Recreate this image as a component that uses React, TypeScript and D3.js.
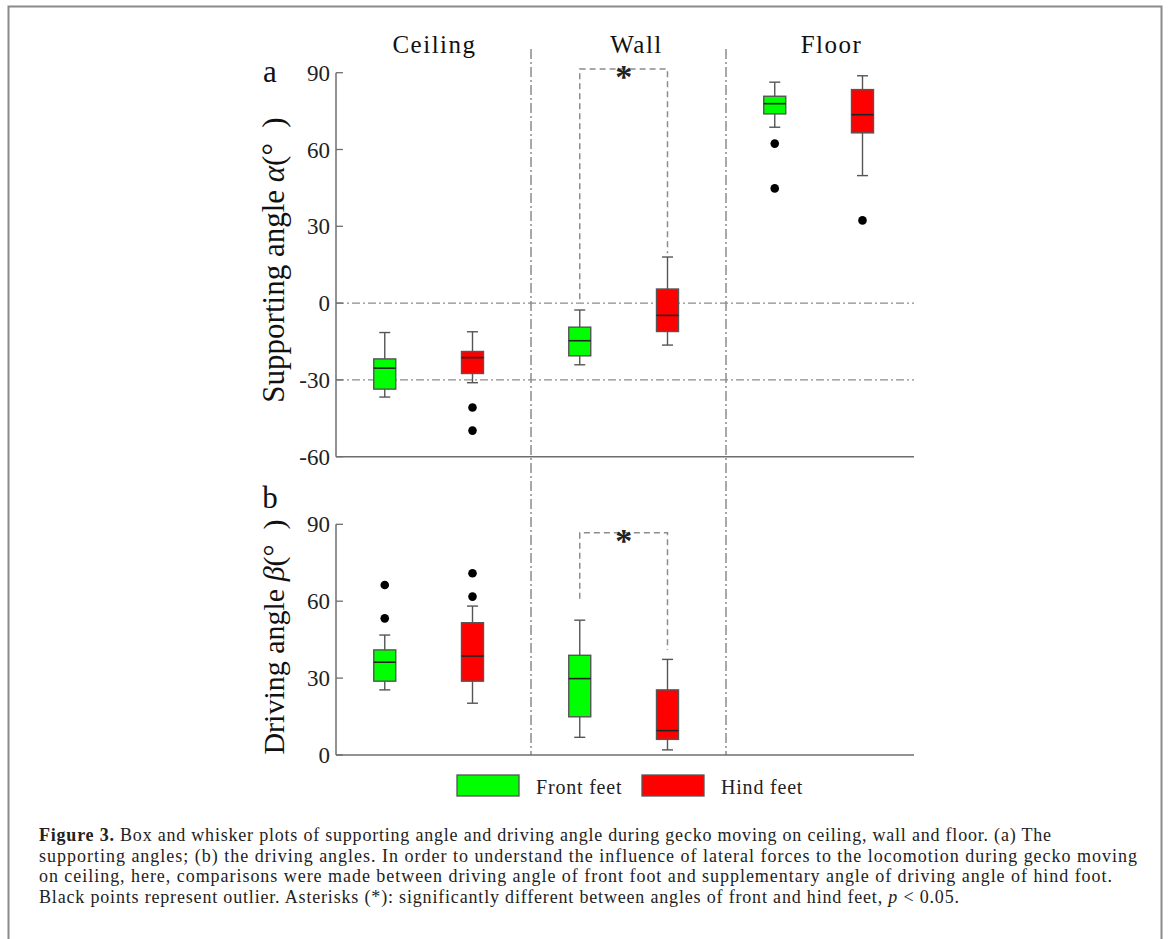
import * as d3 from 'd3';

const surfaces = ['Ceiling', 'Wall', 'Floor'];
const feet = ['Front feet', 'Hind feet'];

// box stats per surface: [whisker low, q1, median, q3, whisker high]
const alphaFront = [
  [-36.7, -33.6, -25.4, -21.8, -11.5],
  [-24.1, -20.6, -14.7, -9.4, -2.7],
  [68.7, 73.9, 77.9, 80.8, 86.3],
];
const alphaHind = [
  [-31.1, -27.5, -21.3, -18.9, -11.2],
  [-16.4, -11.1, -4.8, 5.5, 18.0],
  [49.8, 66.5, 73.6, 83.4, 88.8],
];
const alphaFrontOutliers = [[], [], [62.3, 44.8]];
const alphaHindOutliers = [[-40.8, -49.8], [], [32.3]];

const betaFront = [
  [25.4, 28.8, 36.2, 41.0, 46.8],
  [6.9, 14.9, 29.8, 38.9, 52.6],
  null,
];
const betaHind = [
  [20.2, 28.8, 38.6, 51.6, 58.1],
  [2.0, 6.1, 9.5, 25.4, 37.3],
  null,
];
const betaFrontOutliers = [[66.3, 53.3], [], []];
const betaHindOutliers = [[70.9, 61.8], [], []];

const alphaTicks = [-60, -30, 0, 30, 60, 90];
const betaTicks = [0, 30, 60, 90];
const alphaRefLines = [0, -30];

// significance bracket on Wall: [top, front leg end, hind leg end]
const alphaBracket = [91.4, 1.5, 19.5];
const betaBracket = [86.7, 61, 41];

const captionLines = [
  'Box and whisker plots of supporting angle and driving angle during gecko moving on ceiling, wall and floor. (a) The',
  'supporting angles; (b) the driving angles. In order to understand the influence of lateral forces to the locomotion during gecko moving',
  'on ceiling, here, comparisons were made between driving angle of front foot and supplementary angle of driving angle of hind foot.',
  'Black points represent outlier. Asterisks (*): significantly different between angles of front and hind feet, ',
];

const W = 1171;
const H = 939;
const serif = "'Liberation Serif', 'Times New Roman', serif";
const GREEN = '#00ff00';
const RED = '#ff0000';
const AXIS = '#6e6e6e';
const DASH = '#8c8c8c';

const x = d3.scaleLinear().domain([0, 3]).range([336, 921]);
const axisRight = 914;
const FRONT_OFF = 0.25;
const HIND_OFF = 0.7;
const BOX_W = 22;
const CAP_W = 11;

const yAlpha = d3.scaleLinear().domain([-60, 90]).range([456.7, 72.7]);
const yBeta = d3.scaleLinear().domain([0, 90]).range([755, 524.3]);

function Box({ cx, stats, fill, y }) {
  if (!stats) return null;
  const [lo, q1, med, q3, hi] = stats;
  return (
    <g>
      <line x1={cx} x2={cx} y1={y(hi)} y2={y(q3)} stroke="#555" strokeWidth={1.4} />
      <line x1={cx} x2={cx} y1={y(q1)} y2={y(lo)} stroke="#555" strokeWidth={1.4} />
      <line x1={cx - CAP_W / 2} x2={cx + CAP_W / 2} y1={y(hi)} y2={y(hi)} stroke="#555" strokeWidth={1.4} />
      <line x1={cx - CAP_W / 2} x2={cx + CAP_W / 2} y1={y(lo)} y2={y(lo)} stroke="#555" strokeWidth={1.4} />
      <rect x={cx - BOX_W / 2} y={y(q3)} width={BOX_W} height={y(q1) - y(q3)} fill={fill} stroke="#555" strokeWidth={1.4} />
      <line x1={cx - BOX_W / 2} x2={cx + BOX_W / 2} y1={y(med)} y2={y(med)} stroke="#222" strokeWidth={1.6} />
    </g>
  );
}

function Panel({ y, ticks, front, hind, frontOut, hindOut, bracket, refLines, letter, letterY, label, greek, labelY, labelSize }) {
  const [y0, y1] = y.range();
  const bx1 = x(1 + FRONT_OFF);
  const bx2 = x(1 + HIND_OFF);
  return (
    <g>
      {refLines.map((v) => (
        <line key={v} x1={x(0)} x2={axisRight} y1={y(v)} y2={y(v)} stroke={DASH} strokeWidth={1.4} strokeDasharray="8,3,2,3" />
      ))}
      {/* axes */}
      <line x1={x(0)} x2={x(0)} y1={y0} y2={y1} stroke={AXIS} strokeWidth={1.5} />
      <line x1={x(0)} x2={axisRight} y1={y0} y2={y0} stroke={AXIS} strokeWidth={1.5} />
      {ticks.map((t) => (
        <g key={t}>
          <line x1={x(0)} x2={x(0) + 7} y1={y(t)} y2={y(t)} stroke={AXIS} strokeWidth={1.3} />
          <text x={x(0) - 6} y={y(t)} dy="0.35em" textAnchor="end" fontSize={23} fontFamily={serif} fill="#222">
            {t}
          </text>
        </g>
      ))}
      {/* bracket */}
      <path
        d={`M${bx1},${y(bracket[1])}V${y(bracket[0])}H${bx2}V${y(bracket[2])}`}
        fill="none"
        stroke={DASH}
        strokeWidth={1.5}
        strokeDasharray="6,4"
      />
      <text x={(bx1 + bx2) / 2} y={y(bracket[0]) + 19} textAnchor="middle" fontSize={34} fontWeight="bold" fontFamily={serif} fill="#222">
        *
      </text>
      {surfaces.map((s, i) => (
        <g key={s}>
          <Box cx={x(i + FRONT_OFF)} stats={front[i]} fill={GREEN} y={y} />
          <Box cx={x(i + HIND_OFF)} stats={hind[i]} fill={RED} y={y} />
          {frontOut[i].map((v, k) => (
            <circle key={'f' + k} cx={x(i + FRONT_OFF)} cy={y(v)} r={4.3} fill="#000" />
          ))}
          {hindOut[i].map((v, k) => (
            <circle key={'h' + k} cx={x(i + HIND_OFF)} cy={y(v)} r={4.3} fill="#000" />
          ))}
        </g>
      ))}
      <text x={270} y={letterY} textAnchor="middle" fontSize={31} fontFamily={serif} fill="#111">
        {letter}
      </text>
      <text
        transform={`translate(284,${labelY}) rotate(-90)`}
        textAnchor="middle"
        fontSize={labelSize}
        fontFamily={serif}
        fill="#111"
      >
        {label}
        <tspan fontStyle="italic">{greek}</tspan>
        {'(°\u00A0\u00A0)'}
      </text>
    </g>
  );
}

export default function App() {
  return (
    <svg width={W} height={H} viewBox={`0 0 ${W} ${H}`} style={{ position: 'absolute', left: 0, top: 0, background: '#fff' }}>
      <rect x={0} y={0} width={W} height={H} fill="#fff" />
      <rect x={8.5} y={6.5} width={1153} height={980} fill="none" stroke="#8a8a8a" strokeWidth={2} />

      {/* surface separators */}
      {[1, 2].map((i) => (
        <line key={i} x1={x(i)} x2={x(i)} y1={49} y2={yBeta(0)} stroke={DASH} strokeWidth={1.5} strokeDasharray="10,3,2,3" />
      ))}
      {surfaces.map((s, i) => (
        <text key={s} x={x(i + 0.5) + (i === 0 ? 1 : 8)} y={53} textAnchor="middle" fontSize={25} letterSpacing={1.5} fontFamily={serif} fill="#111">
          {s}
        </text>
      ))}

      <Panel
        y={yAlpha}
        ticks={alphaTicks}
        front={alphaFront}
        hind={alphaHind}
        frontOut={alphaFrontOutliers}
        hindOut={alphaHindOutliers}
        bracket={alphaBracket}
        refLines={alphaRefLines}
        letter="a"
        letterY={82}
        label="Supporting angle "
        greek="α"
        labelY={260}
        labelSize={31}
      />
      <Panel
        y={yBeta}
        ticks={betaTicks}
        front={betaFront}
        hind={betaHind}
        frontOut={betaFrontOutliers}
        hindOut={betaHindOutliers}
        bracket={betaBracket}
        refLines={[]}
        letter="b"
        letterY={508}
        label="Driving angle "
        greek="β"
        labelY={637}
        labelSize={30}
      />

      {/* legend */}
      {feet.map((f, i) => (
        <g key={f} transform={`translate(${i === 0 ? 457 : 642},775)`}>
          <rect width={62} height={21} fill={i === 0 ? GREEN : RED} stroke="#555" strokeWidth={1.3} />
          <text x={79} y={19} fontSize={20} fontFamily={serif} letterSpacing={0.8} fill="#222">
            {f}
          </text>
        </g>
      ))}

      {/* caption */}
      <g fontFamily={serif} fontSize={18} fill="#222">
        <text x={39} y={841} textLength={1012} lengthAdjust="spacing">
          <tspan fontWeight="bold">Figure 3.</tspan> {captionLines[0]}
        </text>
        <text x={39} y={861.5} textLength={1098} lengthAdjust="spacing">
          {captionLines[1]}
        </text>
        <text x={39} y={882} textLength={1073} lengthAdjust="spacing">
          {captionLines[2]}
        </text>
        <text x={39} y={902.5} textLength={920} lengthAdjust="spacing">
          {captionLines[3]}
          <tspan fontStyle="italic">p</tspan>
          {' < 0.05.'}
        </text>
      </g>
    </svg>
  );
}
